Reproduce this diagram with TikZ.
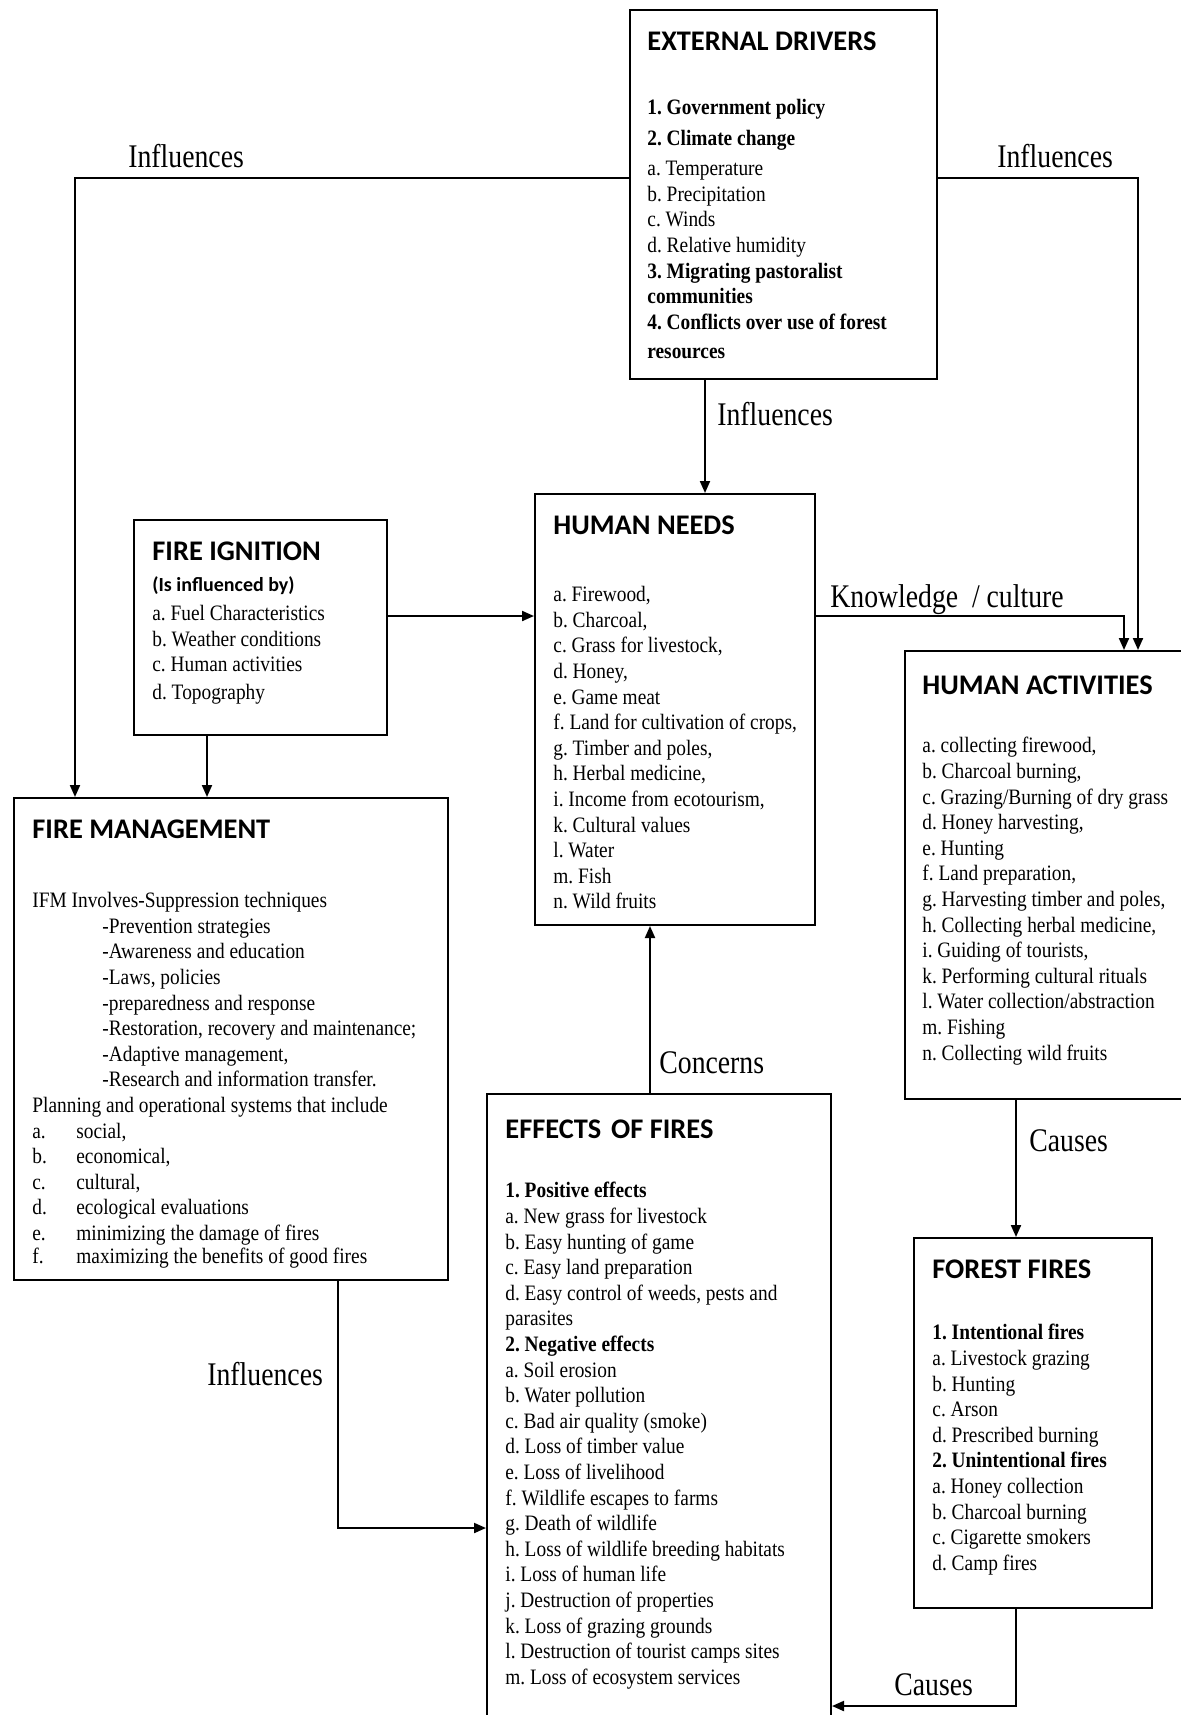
\documentclass[tikz,border=0pt]{standalone}
\usepackage{fontspec}
\setmainfont{Liberation Serif}[FakeStretch=0.88]
\newfontfamily\labfont{Liberation Serif}[FakeStretch=0.84]
\newfontfamily\ttlfont{Carlito}
\usetikzlibrary{arrows.meta}
\tikzset{
  box/.style={draw, line width=1pt, rectangle, inner sep=0pt},
  ttl/.style={anchor=north west, inner sep=0pt, font=\ttlfont\bfseries\fontsize{14.2}{16}\selectfont},
  sub/.style={anchor=north west, inner sep=0pt, font=\ttlfont\bfseries\fontsize{10}{12}\selectfont},
  txt/.style={anchor=north west, inner sep=0pt, align=left, font=\frenchspacing\fontsize{11}{12.8}\selectfont},
  lab/.style={anchor=base west, inner sep=0pt, font=\labfont\fontsize{16.5}{18}\selectfont},
  ln/.style={line width=1pt},
  arr/.style={line width=1pt, -{Triangle[length=6pt,width=5pt]}}
}
\begin{document}
\frenchspacing
\begin{tikzpicture}[x=0.5pt,y=-0.5pt]
\useasboundingbox (0,0) rectangle (1181,1715);
\clip (0,0) rectangle (1181,1715);
\fill[white] (0,0) rectangle (1181,1715);

% ---------- boxes ----------
\node[box, minimum width=153.5pt, minimum height=184.5pt] (ed) at (783.5,194.5) {};
\node[box, minimum width=126.5pt, minimum height=107.5pt] (fi) at (260.5,627.5) {};
\node[box, minimum width=140pt, minimum height=215.5pt] (hn) at (675,709.5) {};
\node[box, minimum width=145pt, minimum height=224pt] (ha) at (1050,875) {};
\node[box, minimum width=217pt, minimum height=241pt] (fm) at (231,1039) {};
\node[box, minimum width=172pt, minimum height=318pt] (ef) at (659,1412) {};
\node[box, minimum width=119pt, minimum height=185pt] (ff) at (1033,1423) {};

% ---------- texts ----------
\node[ttl] (edh) at (647,31) {EXTERNAL DRIVERS};
\node[txt] (edt) at (647,99) {\textbf{1. Government policy}\\[2.7pt]\textbf{2. Climate change}\\[2.2pt]a. Temperature\\b. Precipitation\\c. Winds\\d. Relative humidity\\\textbf{3. Migrating pastoralist}\\\textbf{communities}\\\textbf{4. Conflicts over use of forest}\\[1.7pt]\textbf{resources}};

\node[ttl] (fih) at (152,541) {FIRE IGNITION};
\node[sub] (fis) at (152,576) {(Is influenced by)};
\node[txt] (fit) at (152,605) {a. Fuel Characteristics\\b. Weather conditions\\c. Human activities\\[1.2pt]d. Topography};

\node[ttl] (hnh) at (553,515) {HUMAN NEEDS};
\node[txt] (hnt) at (553,586) {a. Firewood,\\b. Charcoal,\\c. Grass for livestock,\\d. Honey,\\e. Game meat\\f. Land for cultivation of crops,\\g. Timber and poles,\\h. Herbal medicine,\\i. Income from ecotourism,\\k. Cultural values\\l. Water\\m. Fish\\n. Wild fruits};

\node[ttl] (hah) at (922,675) {HUMAN ACTIVITIES};
\node[txt] (hat) at (922,737) {a. collecting firewood,\\b. Charcoal burning,\\c. Grazing/Burning of dry grass\\d. Honey harvesting,\\e. Hunting\\f. Land preparation,\\g. Harvesting timber and poles,\\h. Collecting herbal medicine,\\i. Guiding of tourists,\\k. Performing cultural rituals\\l. Water collection/abstraction\\m. Fishing\\n. Collecting wild fruits};

\node[ttl] (fmh) at (32,819) {FIRE MANAGEMENT};
\node[txt] (fmt) at (32,892) {IFM Involves-Suppression techniques\\
\hspace*{35pt}-Prevention strategies\\
\hspace*{35pt}-Awareness and education\\
\hspace*{35pt}-Laws, policies\\
\hspace*{35pt}-preparedness and response\\
\hspace*{35pt}-Restoration, recovery and maintenance;\\
\hspace*{35pt}-Adaptive management,\\
\hspace*{35pt}-Research and information transfer.\\
Planning and operational systems that include\\
\makebox[22pt][l]{a.}social,\\
\makebox[22pt][l]{b.}economical,\\
\makebox[22pt][l]{c.}cultural,\\
\makebox[22pt][l]{d.}ecological evaluations\\
\makebox[22pt][l]{e.}minimizing the damage of fires\\[-1.3pt]
\makebox[22pt][l]{f.}maximizing the benefits of good fires};

\node[ttl] (efh) at (505,1119) {EFFECTS\hspace{0.35em}OF FIRES};
\node[txt] (eft) at (505,1182) {\textbf{1. Positive effects}\\a. New grass for livestock\\b. Easy hunting of game\\c. Easy land preparation\\d. Easy control of weeds, pests and\\parasites\\\textbf{2. Negative effects}\\a. Soil erosion\\b. Water pollution\\c. Bad air quality (smoke)\\d. Loss of timber value\\e. Loss of livelihood\\f. Wildlife escapes to farms\\g. Death of wildlife\\h. Loss of wildlife breeding habitats\\i. Loss of human life\\j. Destruction of properties\\k. Loss of grazing grounds\\l. Destruction of tourist camps sites\\m. Loss of ecosystem services};

\node[ttl] (ffh) at (932,1259) {FOREST FIRES};
\node[txt] (fft) at (932,1324) {\textbf{1. Intentional fires}\\a. Livestock grazing\\b. Hunting\\c. Arson\\d. Prescribed burning\\\textbf{2. Unintentional fires}\\a. Honey collection\\b. Charcoal burning\\c. Cigarette smokers\\d. Camp fires};

% ---------- routing points ----------
\coordinate (kL) at (75,178);
\coordinate (kR) at (1138,178);
\coordinate (kM) at (705,0);
\coordinate (kY) at (0,616);
\coordinate (kK) at (1124,0);
\coordinate (kF) at (207,0);
\coordinate (kB) at (338,1528);
\coordinate (kC) at (650,0);
\coordinate (kD) at (1016,0);
\coordinate (kE) at (1016,1706);

% ---------- connectors ----------
\draw[arr] (ed.west |- kL) -- (kL) -- (kL |- fm.north);
\draw[arr] (ed.east |- kR) -- (kR) -- (kR |- ha.north);
\draw[arr] (ed.south -| kM) -- (hn.north -| kM);
\draw[arr] (fi.east |- kY) -- (hn.west |- kY);
\draw[arr] (hn.east |- kY) -| (kK |- ha.north);
\draw[arr] (fi.south -| kF) -- (fm.north -| kF);
\draw[arr] (fm.south -| kB) -- (kB) -- (ef.west |- kB);
\draw[arr] (ef.north -| kC) -- (hn.south -| kC);
\draw[arr] (ha.south -| kD) -- (ff.north -| kD);
\draw[arr] (ff.south -| kE) -- (kE) -- (ef.east |- kE);

% ---------- connector labels ----------
\node[lab] (l1) at (128,167) {Influences};
\node[lab] (l2) at (997,167) {Influences};
\node[lab] (l3) at (717,425) {Influences};
\node[lab] (l4) at (830,607) {Knowledge~ / culture};
\node[lab] (l5) at (659,1073) {Concerns};
\node[lab] (l6) at (1029,1151) {Causes};
\node[lab] (l7) at (207,1385) {Influences};
\node[lab] (l8) at (894,1695) {Causes};
\end{tikzpicture}
\end{document}
